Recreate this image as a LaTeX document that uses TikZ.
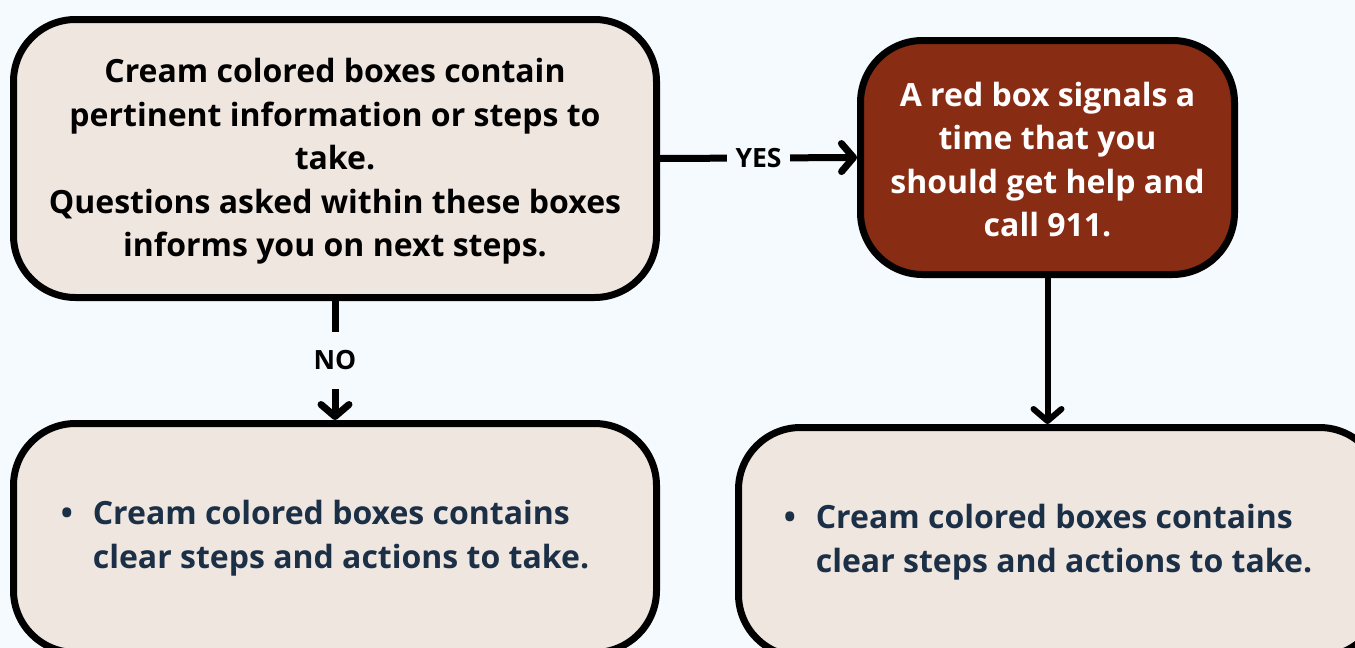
\documentclass[tikz,border=0pt]{standalone}
\usepackage{fontspec}
\setmainfont{Open Sans}
\usetikzlibrary{arrows.meta}
\definecolor{bg}{HTML}{F5FAFE}
\definecolor{cream}{HTML}{EFE6E0}
\definecolor{alarm}{HTML}{892C14}
\definecolor{navy}{HTML}{1B2F46}
\newcommand\topstrut[1]{\rule{0pt}{#1}}
\begin{document}
\begin{tikzpicture}[x=1pt,y=-1pt,
  box/.style={draw=black, line width=7pt, rounded corners=62pt, fill=cream, inner sep=0pt, align=center,
    font=\fontsize{32}{43.5}\selectfont\bfseries},
  conn/.style={line width=7pt, -{Straight Barb[length=12pt,width=28pt,round]}},
  lbl/.style={fill=bg, text=black, font=\fontsize{26.5}{30}\selectfont\bfseries, inner xsep=9pt, inner ysep=0pt}]
\useasboundingbox (0,0) rectangle (1355,648);
\fill[bg] (0,0) rectangle (1355,648);
\clip (0,0) rectangle (1355,648);
\node[box, minimum width=643pt, minimum height=278pt] (q) at (335,158.5)
  {\topstrut{30.3pt}Cream colored boxes contain\\pertinent information or steps to\\take.\\Questions asked within these boxes\\informs you on next steps.};
\node[box, fill=alarm, text=white, minimum width=374pt, minimum height=234pt] (r) at (1047.5,157.5)
  {\topstrut{28.5pt}A red box signals a\\time that you\\should get help and\\call 911.};
\node[box, text=navy, minimum width=643pt, minimum height=229pt] (a) at (335,538)
  {\begin{tabular}{@{}l@{\hspace{20pt}}l@{\hspace{20pt}}}\textbullet & Cream colored boxes contains\\ & clear steps and actions to take.\end{tabular}};
\node[box, text=navy, minimum width=643pt, minimum height=229pt] (b) at (1060,542)
  {\begin{tabular}{@{}l@{\hspace{20pt}}l@{\hspace{24pt}}}\textbullet & Cream colored boxes contains\\ & clear steps and actions to take.\end{tabular}};
\draw[conn] (q.east) -- node[lbl] {YES} (r.west);
\draw[conn] (q.south) -- node[lbl, inner ysep=19pt] {NO} (a.north);
\draw[conn, line width=6pt] (r.south) -- (r.south |- b.north);
\end{tikzpicture}
\end{document}
